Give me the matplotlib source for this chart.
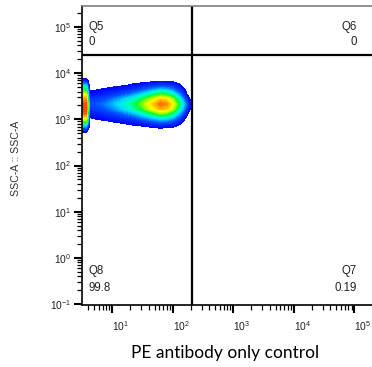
import numpy as np
import matplotlib
matplotlib.use('Agg')
import matplotlib.pyplot as plt
from matplotlib.colors import LinearSegmentedColormap
from matplotlib.ticker import FixedLocator, LogLocator, NullFormatter

plt.rcParams['font.family'] = ['Liberation Sans', 'DejaVu Sans']
plt.rcParams['mathtext.fontset'] = 'custom'
plt.rcParams['mathtext.rm'] = 'Liberation Sans'
plt.rcParams['mathtext.it'] = 'Liberation Sans:italic'
plt.rcParams['mathtext.bf'] = 'Liberation Sans:bold'

# ---------------- data ----------------
# log10 positions of the density grid
pe_log = [0.45, 0.57, 0.62, 0.75, 0.90, 1.05, 1.20, 1.35, 1.50, 1.65,
          1.80, 1.90, 2.00, 2.10, 2.18, 2.24, 2.28, 2.33]
ssc_log = [2.63, 2.73, 2.83, 2.93, 3.03, 3.13, 3.23, 3.33, 3.43, 3.53,
           3.63, 3.73, 3.83, 3.93, 4.03]
# relative event density (rows = SSC, columns = PE)
density = [
    [0.00, 0.00, 0.00, 0.00, 0.00, 0.00, 0.00, 0.00, 0.00, 0.00, 0.00, 0.00, 0.00, 0.00, 0.00, 0.00, 0.00, 0.00],
    [0.04, 0.04, 0.00, 0.00, 0.00, 0.00, 0.00, 0.00, 0.00, 0.00, 0.00, 0.00, 0.00, 0.00, 0.00, 0.00, 0.00, 0.00],
    [0.25, 0.25, 0.00, 0.00, 0.00, 0.00, 0.00, 0.01, 0.02, 0.04, 0.06, 0.04, 0.04, 0.00, 0.00, 0.00, 0.00, 0.00],
    [0.50, 0.50, 0.00, 0.02, 0.02, 0.04, 0.06, 0.09, 0.12, 0.16, 0.20, 0.19, 0.16, 0.09, 0.02, 0.00, 0.00, 0.00],
    [0.72, 0.72, 0.04, 0.06, 0.08, 0.11, 0.14, 0.19, 0.25, 0.32, 0.39, 0.37, 0.30, 0.19, 0.08, 0.00, 0.00, 0.00],
    [0.90, 0.90, 0.09, 0.11, 0.14, 0.19, 0.25, 0.31, 0.40, 0.51, 0.61, 0.58, 0.48, 0.32, 0.17, 0.06, 0.00, 0.00],
    [0.95, 0.95, 0.16, 0.18, 0.23, 0.29, 0.36, 0.45, 0.56, 0.70, 0.82, 0.78, 0.65, 0.46, 0.29, 0.12, 0.06, 0.00],
    [0.93, 0.93, 0.20, 0.22, 0.27, 0.34, 0.41, 0.50, 0.62, 0.77, 0.90, 0.86, 0.72, 0.52, 0.34, 0.18, 0.10, 0.00],
    [0.85, 0.85, 0.15, 0.17, 0.21, 0.28, 0.34, 0.42, 0.53, 0.67, 0.78, 0.75, 0.62, 0.44, 0.26, 0.11, 0.05, 0.00],
    [0.70, 0.70, 0.08, 0.10, 0.13, 0.17, 0.22, 0.29, 0.37, 0.47, 0.57, 0.54, 0.44, 0.29, 0.15, 0.04, 0.00, 0.00],
    [0.52, 0.52, 0.04, 0.05, 0.07, 0.09, 0.12, 0.17, 0.22, 0.29, 0.35, 0.33, 0.27, 0.17, 0.07, 0.00, 0.00, 0.00],
    [0.35, 0.35, 0.00, 0.01, 0.01, 0.03, 0.04, 0.07, 0.10, 0.14, 0.17, 0.16, 0.13, 0.07, 0.00, 0.00, 0.00, 0.00],
    [0.10, 0.10, 0.00, 0.00, 0.00, 0.00, 0.00, 0.00, 0.00, 0.01, 0.03, 0.02, 0.02, 0.00, 0.00, 0.00, 0.00, 0.00],
    [0.00, 0.00, 0.00, 0.00, 0.00, 0.00, 0.00, 0.00, 0.00, 0.00, 0.00, 0.00, 0.00, 0.00, 0.00, 0.00, 0.00, 0.00],
    [0.00, 0.00, 0.00, 0.00, 0.00, 0.00, 0.00, 0.00, 0.00, 0.00, 0.00, 0.00, 0.00, 0.00, 0.00, 0.00, 0.00, 0.00],
]

gate_pe = 209.0
gate_ssc = 25000.0
quad_names = ['Q5', 'Q6', 'Q7', 'Q8']
quad_values = ['0', '0', '0.19', '99.8']

x_tick_exps = [1, 2, 3, 4, 5]
y_tick_exps = [-1, 0, 1, 2, 3, 4, 5]
x_limits_log = (0.5, 5.293)
y_limits_log = (-1.02, 5.455)

x_title = 'PE antibody only control'
y_title = 'SSC-A :: SSC-A'

# ---------------- figure ----------------
W, H = 372, 367
fig = plt.figure(figsize=(W / 100, H / 100), dpi=100)
ax_l, ax_r, ax_t, ax_b = 82, 372, 6, 305
ax = fig.add_axes([ax_l / W, 1 - ax_b / H, (ax_r - ax_l) / W, (ax_b - ax_t) / H])
ax.set_xscale('log')
ax.set_yscale('log')

cmap = LinearSegmentedColormap.from_list('flowjo', [
    (0.00, '#0000ff'), (0.18, '#0050ff'), (0.33, '#00e0ff'), (0.42, '#00ffc0'),
    (0.52, '#00ff30'), (0.62, '#a0ff00'), (0.72, '#ffff00'), (0.84, '#ffa000'),
    (0.93, '#ff5000'), (1.00, '#ff0000')])

X = 10 ** np.array(pe_log)
Y = 10 ** np.array(ssc_log)
Z = np.array(density)
levels = np.linspace(0.05, 1.0, 40)
cs = ax.contourf(X, Y, Z, levels=levels, cmap=cmap, vmin=0.05, vmax=1.0)
cs.set_edgecolor('face')
cs.set_linewidth(0.6)

ax.set_xlim(10 ** x_limits_log[0], 10 ** x_limits_log[1])
ax.set_ylim(10 ** y_limits_log[0], 10 ** y_limits_log[1])

# quadrant gates
ax.axvline(gate_pe, color='black', lw=1.6)
ax.axhline(gate_ssc, color='black', lw=1.6)

# ticks
ax.xaxis.set_major_locator(FixedLocator([10.0 ** e for e in x_tick_exps]))
ax.set_xticklabels([r'$10^{%d}$' % e for e in x_tick_exps])
ax.yaxis.set_major_locator(FixedLocator([10.0 ** e for e in y_tick_exps]))
ax.set_yticklabels([r'$10^{%d}$' % e for e in y_tick_exps])
for a in (ax.xaxis, ax.yaxis):
    a.set_minor_locator(LogLocator(base=10, subs=np.arange(2, 10), numticks=100))
    a.set_minor_formatter(NullFormatter())
ax.tick_params(which='major', direction='out', length=6, width=1.5,
               labelsize=7.4, labelcolor='#222222', color='black')
ax.tick_params(which='minor', direction='out', length=3.5, width=0.9, color='black')
ax.tick_params(axis='y', which='major', pad=1.5)
ax.tick_params(axis='x', which='major', pad=4)
for lab in ax.get_xticklabels():
    lab.set_ha('left')

# spines
ax.spines['right'].set_visible(False)
ax.spines['top'].set_color('#808080')
ax.spines['top'].set_linewidth(1.2)
ax.spines['left'].set_linewidth(1.2)
ax.spines['bottom'].set_linewidth(1.2)

# quadrant labels
qkw = dict(transform=ax.transAxes, fontsize=8.3, color='#222222', va='baseline')
ax.text(0.021, 0.920, quad_names[0], ha='left', **qkw)
ax.text(0.021, 0.870, quad_values[0], ha='left', **qkw)
ax.text(0.948, 0.920, quad_names[1], ha='right', **qkw)
ax.text(0.948, 0.870, quad_values[1], ha='right', **qkw)
ax.text(0.948, 0.104, quad_names[2], ha='right', **qkw)
ax.text(0.948, 0.047, quad_values[2], ha='right', **qkw)
ax.text(0.021, 0.104, quad_names[3], ha='left', **qkw)
ax.text(0.021, 0.047, quad_values[3], ha='left', **qkw)

# axis titles
ax.text(-0.228, 0.49, y_title, transform=ax.transAxes, rotation=90,
        ha='center', va='center', fontsize=7.6, color='#333333')
ax.set_xlabel(x_title, fontsize=12.5, family=['Lato', 'DejaVu Sans'], color='black')
ax.xaxis.set_label_coords((225 - ax_l) / (ax_r - ax_l), (ax_b - 345) / (ax_b - ax_t))
ax.xaxis.label.set_va('top')

fig.savefig('out.png', dpi=100)
